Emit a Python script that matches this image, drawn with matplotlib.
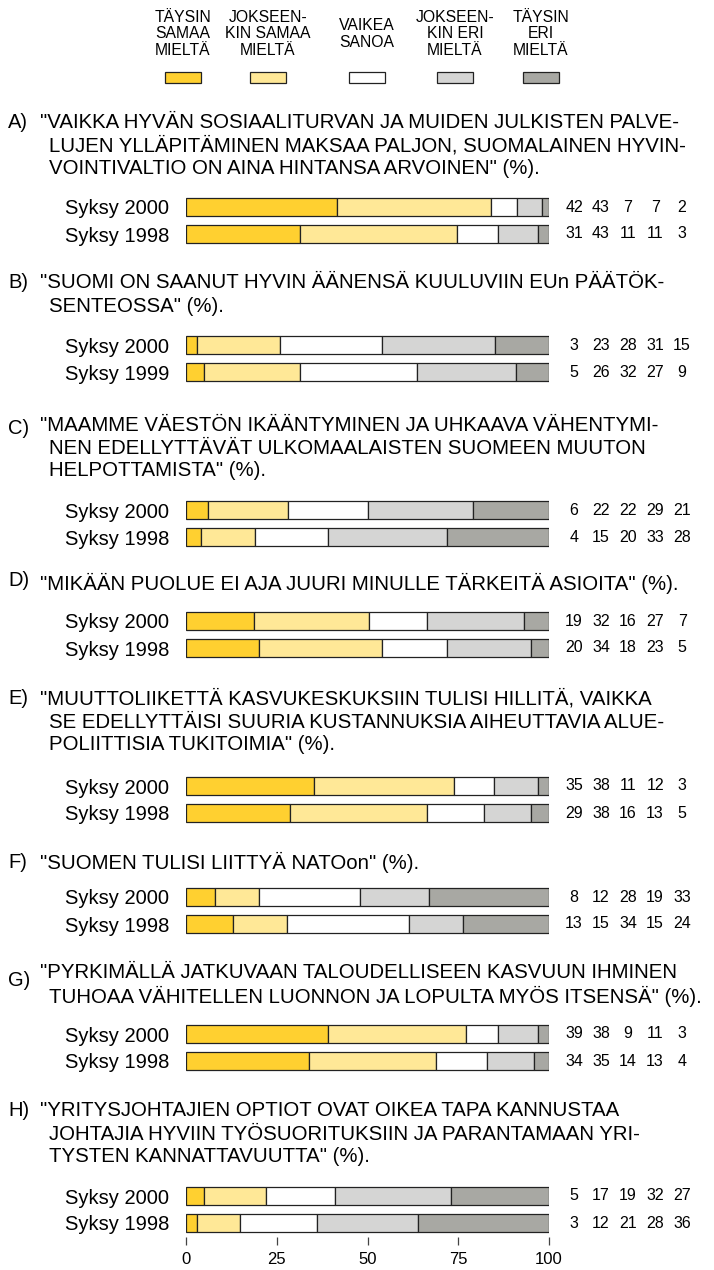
import matplotlib.pyplot as plt
import matplotlib as mpl
from matplotlib.patches import Rectangle
import numpy as np

mpl.rcParams.update({'font.family': ['Liberation Sans', 'DejaVu Sans']})

categories = ["TÄYSIN\nSAMAA\nMIELTÄ", "JOKSEEN-\nKIN SAMAA\nMIELTÄ", "VAIKEA\nSANOA",
              "JOKSEEN-\nKIN ERI\nMIELTÄ", "TÄYSIN\nERI\nMIELTÄ"]
colors = ['#FFD030', '#FFE897', '#FFFFFF', '#D5D5D4', '#A8A8A3']

letters = ["A)", "B)", "C)", "D)", "E)", "F)", "G)", "H)"]
questions = [
    ['"VAIKKA HYVÄN SOSIAALITURVAN JA MUIDEN JULKISTEN PALVE-',
     'LUJEN YLLÄPITÄMINEN MAKSAA PALJON, SUOMALAINEN HYVIN-',
     'VOINTIVALTIO ON AINA HINTANSA ARVOINEN" (%).'],
    ['"SUOMI ON SAANUT HYVIN ÄÄNENSÄ KUULUVIIN EUn PÄÄTÖK-',
     'SENTEOSSA" (%).'],
    ['"MAAMME VÄESTÖN IKÄÄNTYMINEN JA UHKAAVA VÄHENTYMI-',
     'NEN EDELLYTTÄVÄT ULKOMAALAISTEN SUOMEEN MUUTON',
     'HELPOTTAMISTA" (%).'],
    ['"MIKÄÄN PUOLUE EI AJA JUURI MINULLE TÄRKEITÄ ASIOITA" (%).'],
    ['"MUUTTOLIIKETTÄ KASVUKESKUKSIIN TULISI HILLITÄ, VAIKKA',
     'SE EDELLYTTÄISI SUURIA KUSTANNUKSIA AIHEUTTAVIA ALUE-',
     'POLIITTISIA TUKITOIMIA" (%).'],
    ['"SUOMEN TULISI LIITTYÄ NATOon" (%).'],
    ['"PYRKIMÄLLÄ JATKUVAAN TALOUDELLISEEN KASVUUN IHMINEN',
     'TUHOAA VÄHITELLEN LUONNON JA LOPULTA MYÖS ITSENSÄ" (%).'],
    ['"YRITYSJOHTAJIEN OPTIOT OVAT OIKEA TAPA KANNUSTAA',
     'JOHTAJIA HYVIIN TYÖSUORITUKSIIN JA PARANTAMAAN YRI-',
     'TYSTEN KANNATTAVUUTTA" (%).'],
]
years = [["Syksy 2000", "Syksy 1998"], ["Syksy 2000", "Syksy 1999"],
         ["Syksy 2000", "Syksy 1998"], ["Syksy 2000", "Syksy 1998"],
         ["Syksy 2000", "Syksy 1998"], ["Syksy 2000", "Syksy 1998"],
         ["Syksy 2000", "Syksy 1998"], ["Syksy 2000", "Syksy 1998"]]

A_vals = [[42, 43, 7, 7, 2], [31, 43, 11, 11, 3]]
B_vals = [[3, 23, 28, 31, 15], [5, 26, 32, 27, 9]]
C_vals = [[6, 22, 22, 29, 21], [4, 15, 20, 33, 28]]
D_vals = [[19, 32, 16, 27, 7], [20, 34, 18, 23, 5]]
E_vals = [[35, 38, 11, 12, 3], [29, 38, 16, 13, 5]]
F_vals = [[8, 12, 28, 19, 33], [13, 15, 34, 15, 24]]
G_vals = [[39, 38, 9, 11, 3], [34, 35, 14, 13, 4]]
H_vals = [[5, 17, 19, 32, 27], [3, 12, 21, 28, 36]]
all_vals = [A_vals, B_vals, C_vals, D_vals, E_vals, F_vals, G_vals, H_vals]
xticks = [0, 25, 50, 75, 100]

# layout in pixels (figure 714 x 1270)
W, H = 714, 1270
title_y = [123, 283, 425, 583, 699, 862, 973, 1111]
letter_dy = [0, 0, 3, -3, 0, 0, 7, 0]
bar_y = [207, 345, 510, 621, 786, 897, 1034, 1196]
line_step = 23
bar_step = 27
x0, x1 = 186, 549

fig = plt.figure(figsize=(W / 100, H / 100), dpi=100)

# legend on top
leg_x = [183, 268, 367, 455, 541]
for cx, lab, col in zip(leg_x, categories, colors):
    fig.text(cx / W, 1 - 34 / H, lab, ha='center', va='center', fontsize=11.3,
             linespacing=1.12)
    fig.patches.append(Rectangle(((cx - 18) / W, 1 - 83 / H), 36 / W, 11 / H,
                                 transform=fig.transFigure, facecolor=col,
                                 edgecolor='#222222', linewidth=0.9))

for q in range(8):
    fig.text(8 / W, 1 - (title_y[q] + letter_dy[q]) / H, letters[q], ha='left', va='center',
             fontsize=14.5)
    for i, line in enumerate(questions[q]):
        lx = 40 if i == 0 else 49
        fig.text(lx / W, 1 - (title_y[q] + i * line_step) / H, line,
                 ha='left', va='center', fontsize=14.7)

    top = bar_y[q] - bar_step / 2
    ax = fig.add_axes([x0 / W, 1 - (top + 2 * bar_step) / H, (x1 - x0) / W, 2 * bar_step / H])
    vals = np.array(all_vals[q], dtype=float)
    for r in range(2):
        scaled = vals[r] * 100 / vals[r].sum()
        left = 0
        for k in range(5):
            ax.barh(r, scaled[k], left=left, height=0.69, color=colors[k],
                    edgecolor='#222222', linewidth=0.9)
            left += scaled[k]
        for k in range(5):
            ax.text(1.069 + k * 0.0744, r, str(all_vals[q][r][k]), transform=ax.get_yaxis_transform(),
                    ha='center', va='center', fontsize=11.5, clip_on=False)
    ax.set_xlim(0, 100)
    ax.set_ylim(1.5, -0.5)
    ax.set_yticks([0, 1])
    ax.set_yticklabels(years[q], fontsize=14.5)
    ax.tick_params(axis='y', length=0, pad=12)
    for s in ax.spines.values():
        s.set_visible(False)
    if q == 7:
        ax.set_xticks(xticks)
        ax.tick_params(axis='x', length=6, width=0.9, color='#444444', labelsize=12, pad=5)
    else:
        ax.set_xticks([])

fig.savefig("out.png", dpi=100)
